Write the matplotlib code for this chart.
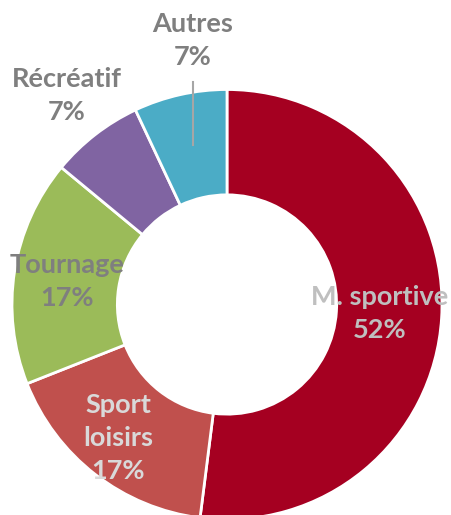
import matplotlib.pyplot as plt

labels = ['M. sportive', 'Sport\nloisirs', 'Tournage', 'Récréatif', 'Autres']
values = [52, 17, 17, 7, 7]
colors = ['#A50021', '#C0504D', '#9BBB59', '#8064A2', '#4BACC6']
text_colors = ['#BFBFBF', '#D9D9D9', '#7F7F7F', '#7F7F7F', '#7F7F7F']
# label block centres, in units of the outer radius
label_pos = [(0.712, -0.044), (-0.507, -0.621), (-0.744, 0.109),
             (-0.744, 0.974), (-0.158, 1.226)]

fig = plt.figure(figsize=(4.51, 5.15), dpi=100)
ax = fig.add_axes([0, 0, 1, 1])

ax.pie(values, colors=colors, startangle=90, counterclock=False, radius=1.0,
       wedgeprops=dict(width=0.49, edgecolor='white', linewidth=2))

total = sum(values)
for lab, v, tc, (x, y) in zip(labels, values, text_colors, label_pos):
    ax.text(x, y, f'{lab}\n{round(100 * v / total)}%', ha='center', va='center',
            fontsize=19.5, fontweight='bold', family=['Lato', 'DejaVu Sans'],
            color=tc, linespacing=1.45)

# leader line for "Autres"
ax.plot([-0.158, -0.158], [1.037, 0.742], color='#A6A6A6', lw=1.5)

ax.set_xlim(-227 / 215, (451 - 227) / 215)
ax.set_ylim(-(515 - 304.5) / 215, 304.5 / 215)
ax.set_aspect('auto')
ax.axis('off')

fig.savefig('out.png', dpi=100)
